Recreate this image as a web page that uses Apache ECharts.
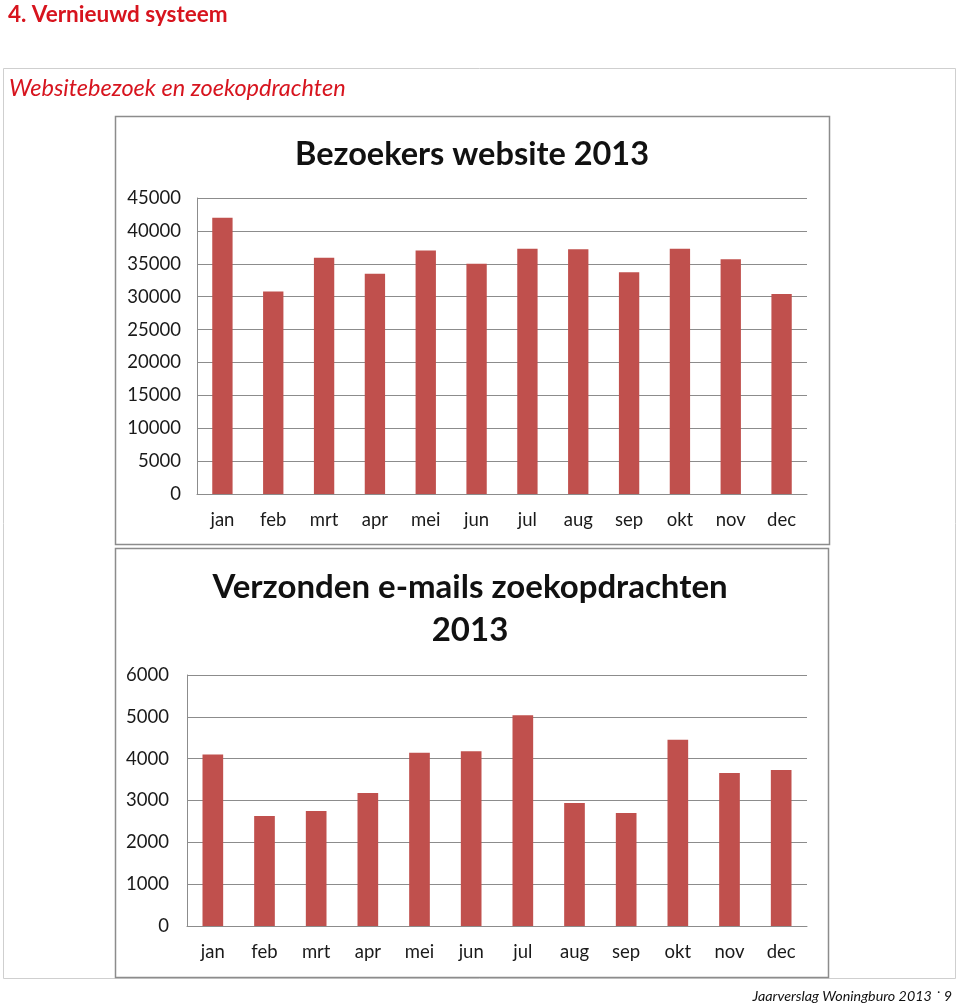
<!DOCTYPE html>
<html>
<head>
<meta charset="utf-8">
<script src="https://cdn.jsdelivr.net/npm/echarts@6/dist/echarts.min.js"></script>
<style>
html,body{margin:0;padding:0;background:#fff;}
#c{width:960px;height:1006px;}
</style>
</head>
<body>
<div id="c"></div>
<script>
const months = ['jan','feb','mrt','apr','mei','jun','jul','aug','sep','okt','nov','dec'];
const visitors = [42000, 30800, 35900, 33500, 37000, 35000, 37300, 37200, 33700, 37300, 35700, 30400];
const emails = [4100, 2630, 2750, 3180, 4140, 4180, 5040, 2940, 2700, 4450, 3660, 3730];
const visitorTicks = {min: 0, max: 45000, interval: 5000};
const emailTicks = {min: 0, max: 6000, interval: 1000};

const FONT = 'Lato, "Open Sans", sans-serif';
const RED = '#d7141e';
const BAR = '#c0504d';

const chart = echarts.init(document.getElementById('c'), null, {renderer: 'canvas'});

function yAxis(gridIndex, t, margin) {
  return {
    type: 'value', gridIndex: gridIndex, min: t.min, max: t.max, interval: t.interval,
    axisLine: {show: true, lineStyle: {color: '#8c8c8c', width: 1}},
    axisTick: {show: false},
    axisLabel: {color: '#1a1a1a', fontSize: 18.5, fontFamily: FONT, margin: margin, formatter: v => String(v)},
    splitLine: {show: true, lineStyle: {color: '#8c8c8c', width: 1}}
  };
}
function xAxis(gridIndex) {
  return {
    type: 'category', gridIndex: gridIndex, data: months,
    axisLine: {show: true, lineStyle: {color: '#8c8c8c', width: 1}},
    axisTick: {show: false},
    axisLabel: {color: '#1a1a1a', fontSize: 18.5, fontFamily: FONT, margin: 17}
  };
}

chart.setOption({
  animation: false,
  backgroundColor: '#fff',
  grid: [
    {left: 197, top: 198, width: 610, height: 296},
    {left: 187, top: 675, width: 620, height: 251}
  ],
  xAxis: [xAxis(0), xAxis(1)],
  yAxis: [yAxis(0, visitorTicks, 16), yAxis(1, emailTicks, 18)],
  series: [
    {type: 'bar', xAxisIndex: 0, yAxisIndex: 0, data: visitors, barWidth: '40%', itemStyle: {color: BAR}},
    {type: 'bar', xAxisIndex: 1, yAxisIndex: 1, data: emails, barWidth: '40%', itemStyle: {color: BAR}}
  ],
  graphic: [
    {type: 'rect', shape: {x: 3.5, y: 68.5, width: 952, height: 910}, style: {fill: 'none', stroke: '#cfcfcf', lineWidth: 1}, z: -10},
    {type: 'rect', shape: {x: 115.5, y: 116.5, width: 714, height: 428}, style: {fill: 'none', stroke: '#8c8c8c', lineWidth: 1.5}, z: -5},
    {type: 'rect', shape: {x: 115.5, y: 548.5, width: 713, height: 429}, style: {fill: 'none', stroke: '#8c8c8c', lineWidth: 1.5}, z: -5},
    {type: 'text', left: 8, top: 3, style: {text: '4. Vernieuwd systeem', fill: RED, font: 'bold 22.5px ' + FONT}},
    {type: 'text', left: 9, top: 77, style: {text: 'Websitebezoek en zoekopdrachten', fill: RED, font: 'italic 23.5px ' + FONT}},
    {type: 'text', x: 472, y: 155, style: {text: 'Bezoekers website 2013', fill: '#111', font: 'bold 32.5px ' + FONT, align: 'center', verticalAlign: 'middle'}},
    {type: 'text', x: 470, y: 587, style: {text: 'Verzonden e-mails zoekopdrachten', fill: '#111', font: 'bold 33px ' + FONT, align: 'center', verticalAlign: 'middle'}},
    {type: 'text', x: 470, y: 630, style: {text: '2013', fill: '#111', font: 'bold 33px ' + FONT, align: 'center', verticalAlign: 'middle'}},
    {type: 'text', x: 952, y: 996, style: {text: 'Jaarverslag Woningburo 2013 \u02d9 9', fill: '#111', font: 'italic 14.3px ' + FONT, align: 'right', verticalAlign: 'middle'}}
  ]
});
</script>
</body>
</html>
